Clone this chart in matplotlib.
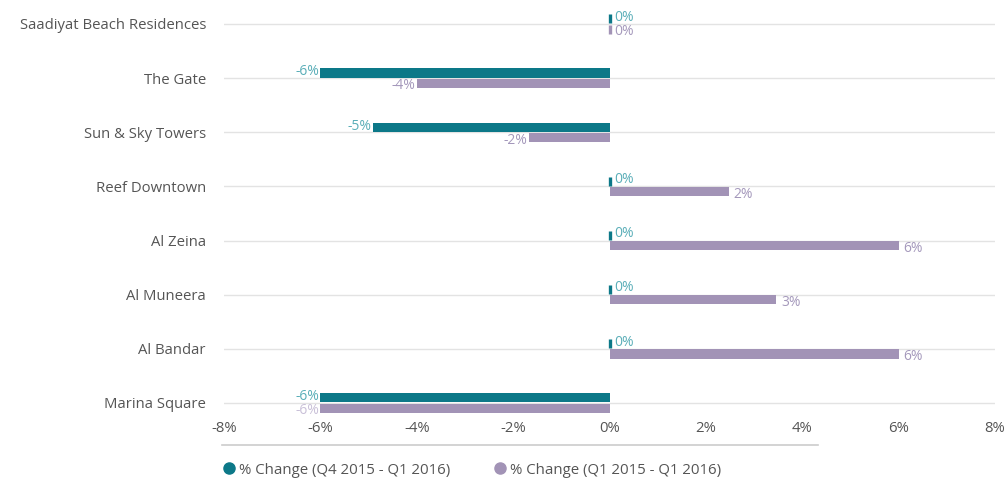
import matplotlib.pyplot as plt
from matplotlib.lines import Line2D

plt.rcParams["font.family"] = ["Open Sans", "DejaVu Sans"]

projects = ["Saadiyat Beach Residences", "The Gate", "Sun & Sky Towers",
            "Reef Downtown", "Al Zeina", "Al Muneera", "Al Bandar", "Marina Square"]
q4_change = [0, -6.0, -4.9, 0, 0, 0, 0, -6.0]
yoy_change = [0, -4.0, -1.68, 2.48, 6.0, 3.46, 6.0, -6.0]
x_ticks = [-8, -6, -4, -2, 0, 2, 4, 6, 8]
series_names = ["% Change (Q4 2015 - Q1 2016)", "% Change (Q1 2015 - Q1 2016)"]

teal = "#0c7888"
purple = "#a293b6"
teal_txt = "#5aaeb8"
purple_txt = "#a498bb"
grey_txt = "#555555"

fig = plt.figure(figsize=(10.05, 4.93), dpi=100)
ax = fig.add_axes([224 / 1005, 0.1623, (995 - 224) / 1005, 0.8377])

y = list(range(len(projects)))
h = 0.17


def lw_for(vals):
    # zero values are drawn as a thin stub
    return [2.4 if v == 0 else 0 for v in vals]


ax.barh([i - h / 2 - 0.01 for i in y], q4_change, height=h, color=teal,
        edgecolor=teal, linewidth=lw_for(q4_change), zorder=3)
ax.barh([i + h / 2 + 0.01 for i in y], yoy_change, height=h, color=purple,
        edgecolor=purple, linewidth=lw_for(yoy_change), zorder=3)

for i, v in enumerate(q4_change):
    txt = f"{int(round(v))}%"
    if v < 0:
        ax.text(v - 0.03, i - h / 2 - 0.03, txt, ha="right", va="center",
                color=teal_txt, fontsize=10)
    else:
        ax.text(v + 0.1, i - h / 2 - 0.04, txt, ha="left", va="center",
                color=teal_txt, fontsize=10)

for i, v in enumerate(yoy_change):
    txt = f"{int(round(v))}%"
    c = "#c9c0d8" if i == len(projects) - 1 else purple_txt
    if v < 0:
        ax.text(v - 0.03, i + h / 2 + 0.06, txt, ha="right", va="center",
                color=c, fontsize=10)
    else:
        ax.text(v + 0.1, i + h / 2 + 0.06, txt, ha="left", va="center",
                color=c, fontsize=10)

ax.set_xlim(-8, 8)
ax.set_ylim(7.185, -0.443)
ax.set_yticks(y)
ax.set_yticklabels(projects)
ax.set_xticks(x_ticks)
ax.set_xticklabels([f"{t}%" for t in x_ticks])
ax.tick_params(length=0, labelsize=10.7, colors=grey_txt)
ax.tick_params(axis="y", pad=13)
ax.tick_params(axis="x", pad=6)
for s in ax.spines.values():
    s.set_visible(False)
for i in y:
    ax.axhline(i, color="#e3e3e3", linewidth=1, zorder=1)

fig.add_artist(Line2D([222 / 1005, 818 / 1005], [1 - 445 / 493] * 2,
                      transform=fig.transFigure, color="#cccccc", linewidth=1.2))

handles = [Line2D([], [], marker="o", linestyle="", color=teal, markersize=8),
           Line2D([], [], marker="o", linestyle="", color=purple, markersize=8)]
fig.legend(handles, series_names, loc="center left",
           bbox_to_anchor=(206 / 1005, 1 - 470 / 493), ncol=2, frameon=False,
           fontsize=10.8, labelcolor=grey_txt, handletextpad=0.1,
           columnspacing=2.7, handlelength=1.2)

fig.savefig("out.png", dpi=100)
